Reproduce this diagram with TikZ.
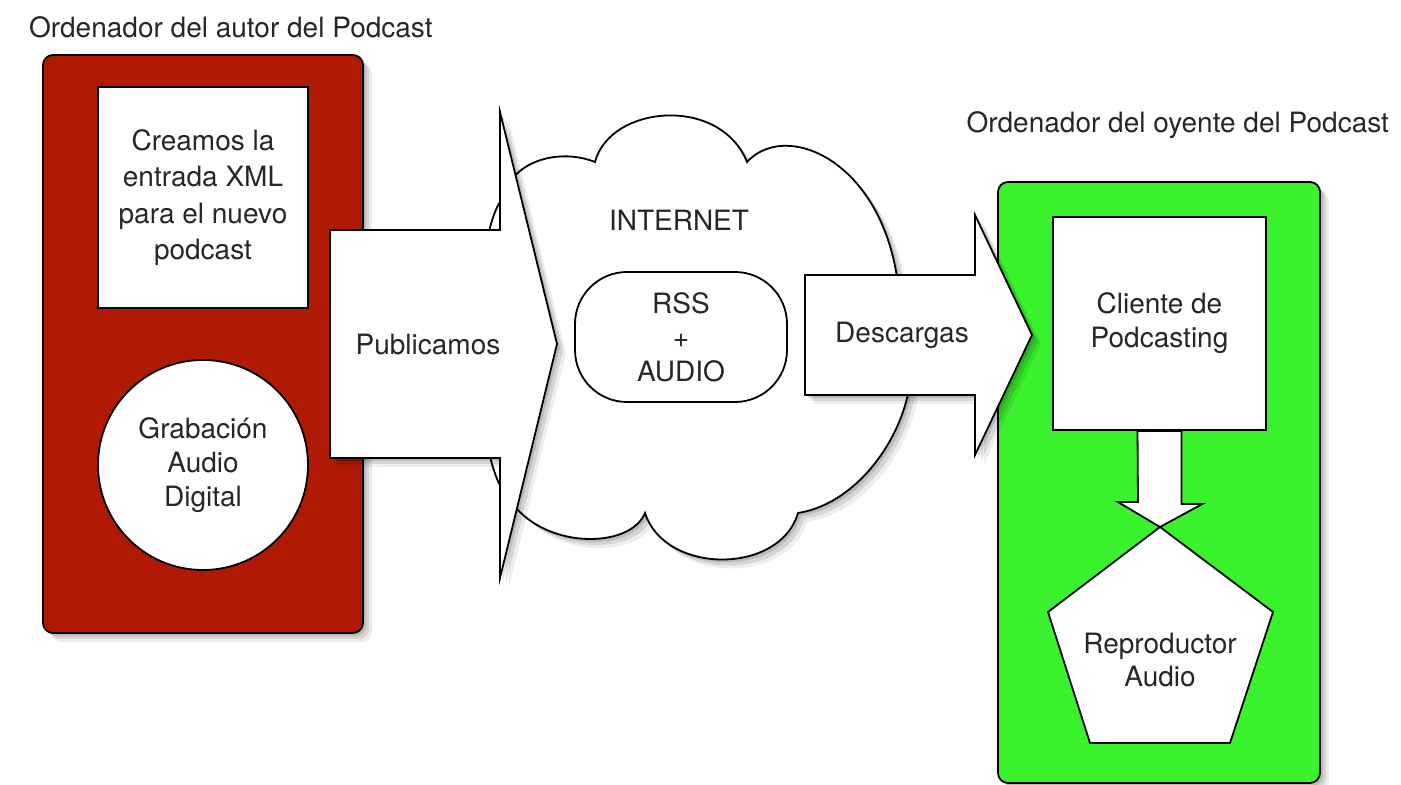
\documentclass[tikz,border=0pt]{standalone}
\usepackage{fontspec}
\setmainfont{TeX Gyre Heros}

\definecolor{autorred}{RGB}{176,26,4}
\definecolor{oyentegreen}{RGB}{58,242,44}

\tikzset{
    every node/.style={font=\fontsize{14}{17}\selectfont, text=black!85},
    outline/.style={draw=black, line width=0.9pt},
    boxshadow/.style={
        preaction={draw=none, fill=black, opacity=0.12, transform canvas={xshift=1.5pt, yshift=-1.5pt}},
        preaction={draw=none, fill=black, opacity=0.10, transform canvas={xshift=3pt, yshift=-3pt}},
        preaction={draw=none, fill=black, opacity=0.07, transform canvas={xshift=4.5pt, yshift=-4.5pt}}},
    whitebox/.style={outline, fill=white, align=center, inner sep=0pt},
    bigarrow/.style={outline, fill=white, line join=miter},
}

\begin{document}
\begin{tikzpicture}[x=0.5pt, y=-0.5pt]
    \useasboundingbox (0,0) rectangle (1401,785);

    % ==========================================
    % Left: author's computer
    % ==========================================
    \node[anchor=west] (autor) at (22,27) {Ordenador del autor del Podcast};
    \draw[outline, fill=autorred, rounded corners=5pt, boxshadow] (43,55) rectangle (363,633);

    \node[whitebox, font=\fontsize{14}{18.3}\selectfont, minimum width=105pt, minimum height=110.5pt] (xml) at (203,197.5)
        {Creamos la\\entrada XML\\para el nuevo\\podcast};
    \node[whitebox, circle, minimum size=105pt] (grabacion) at (203,465)
        {Grabación\\Audio\\Digital};

    % ==========================================
    % Middle: the cloud
    % ==========================================
    \draw[outline, fill=white, boxshadow]
        (503,198) .. controls (512,160) and (560,148) .. (595,162)
        .. controls (610,105) and (720,95) .. (747,162)
        .. controls (790,115) and (905,170) .. (900,330)
        .. controls (935,380) and (880,500) .. (798,513)
        .. controls (780,575) and (665,575) .. (645,513)
        .. controls (630,550) and (540,550) .. (508,497)
        .. controls (470,460) and (470,235) .. (503,198) -- cycle;
    \node (internet) at (679,220) {INTERNET};
    \node[whitebox, rounded corners=26pt, minimum width=106pt, minimum height=65pt] (rss) at (681,337)
        {RSS\\+\\AUDIO};

    % Publish arrow
    \draw[bigarrow, boxshadow] (330,230) -- (500,230) -- (500,112) -- (557,344)
        -- (500,578) -- (500,458) -- (330,458) -- cycle;
    \node (publicamos) at (428,345) {Publicamos};

    % ==========================================
    % Right: listener's computer
    % ==========================================
    \node[anchor=east] (oyente) at (1396,125) {Ordenador del oyente del Podcast};
    \draw[outline, fill=oyentegreen, rounded corners=5pt, boxshadow] (998,182) rectangle (1320,783);

    % Download arrow
    \draw[bigarrow, boxshadow] (805,275) -- (975,275) -- (975,215) -- (1032,335)
        -- (975,455) -- (975,395) -- (805,395) -- cycle;
    \node (descargas) at (902,335) {Descargas};

    \node[whitebox, minimum width=106.5pt, minimum height=106.5pt] (cliente) at (1159.5,323.5)
        {Cliente de\\Podcasting};

    % Player pentagon
    \coordinate (pentatop) at (1160,527);
    \draw[outline, fill=white] (pentatop) -- (1273,612) -- (1230,743) -- (1090,743) -- (1048,612) -- cycle;
    \node[align=center] (repro) at (1160,660) {Reproductor\\Audio};

    % Small arrow from client to player
    \draw[bigarrow] (cliente.south) ++(-22,0) -- ++(44,0) -- ++(0,73) -- ++(21,0)
        -- (pentatop) -- ++(-42,-25) -- ++(20,0) -- cycle;
\end{tikzpicture}
\end{document}
